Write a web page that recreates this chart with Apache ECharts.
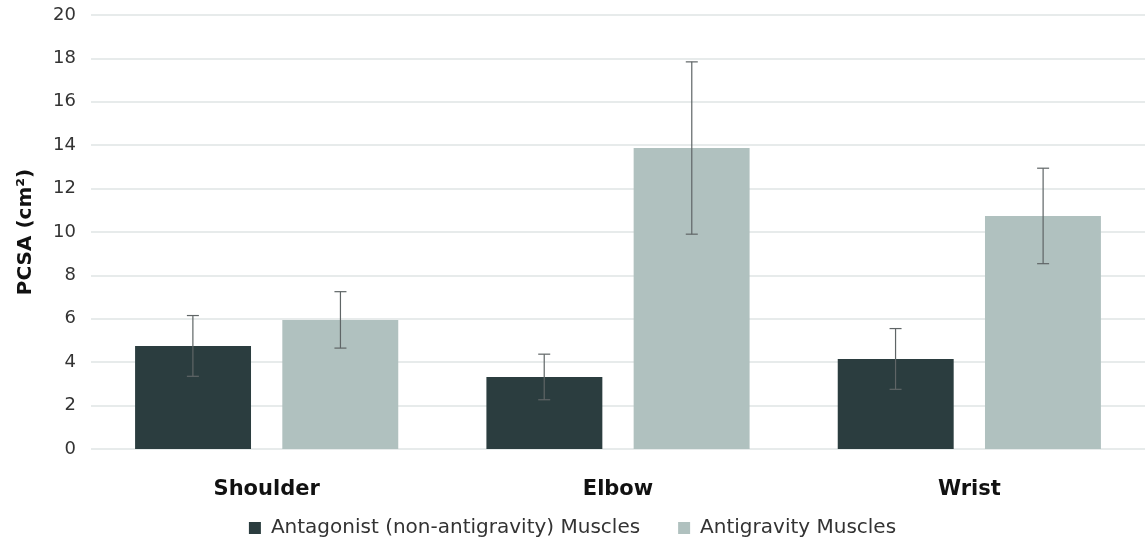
<!DOCTYPE html>
<html>
<head>
<meta charset="utf-8">
<script src="https://cdn.jsdelivr.net/npm/echarts@6/dist/echarts.min.js"></script>
<style>
  html, body { margin: 0; padding: 0; background: #fff; }
  #chart { width: 1145px; height: 545px; }
</style>
</head>
<body>
<div id="chart"></div>
<script>
// data
var joints = ['Shoulder', 'Elbow', 'Wrist'];
var antagonist = [4.75, 3.32, 4.15];
var antigravity = [5.95, 13.87, 10.74];
var antagonistErr = [1.4, 1.05, 1.4];
var antigravityErr = [1.3, 3.97, 2.2];
var yTicks = { min: 0, max: 20, interval: 2 };

var colAntag = '#2b3d3f';
var colAnti = '#b0c1bf';
var font = 'DejaVu Sans, Verdana, sans-serif';

// error bar drawn over one of the grouped bars
// shift = offset of bar centre as a fraction of the category band
function errorBars(values, errs, shift) {
    var data = values.map(function (v, i) { return [i, v - errs[i], v + errs[i]]; });
    return {
        type: 'custom',
        silent: true,
        z: 10,
        data: data,
        encode: { x: 0, y: [1, 2] },
        renderItem: function (params, api) {
            var lo = api.coord([api.value(0), api.value(1)]);
            var hi = api.coord([api.value(0), api.value(2)]);
            var band = api.size([1, 0])[0];
            var x = lo[0] + band * shift;
            var cap = 6;
            var style = { stroke: '#5f6566', lineWidth: 1.2 };
            return {
                type: 'group',
                children: [
                    { type: 'line', shape: { x1: x, y1: lo[1], x2: x, y2: hi[1] }, style: style },
                    { type: 'line', shape: { x1: x - cap, y1: hi[1], x2: x + cap, y2: hi[1] }, style: style },
                    { type: 'line', shape: { x1: x - cap, y1: lo[1], x2: x + cap, y2: lo[1] }, style: style }
                ]
            };
        }
    };
}

var option = {
    animation: false,
    grid: { left: 91, right: 0, top: 15, bottom: 96 },
    legend: {
        bottom: 2,
        left: 'center',
        icon: 'rect',
        itemWidth: 12,
        itemHeight: 12,
        itemGap: 38,
        textStyle: { fontFamily: font, fontSize: 20, color: '#333', padding: [0, 0, 0, 5] },
        data: ['Antagonist (non-antigravity) Muscles', 'Antigravity Muscles']
    },
    xAxis: {
        type: 'category',
        data: joints,
        axisLine: { show: false },
        axisTick: { show: false },
        axisLabel: { margin: 30, fontFamily: font, fontSize: 21, fontWeight: 'bold', color: '#111' }
    },
    yAxis: {
        type: 'value',
        min: yTicks.min,
        max: yTicks.max,
        interval: yTicks.interval,
        name: 'PCSA (cm²)',
        nameLocation: 'middle',
        nameGap: 55,
        nameTextStyle: { fontFamily: font, fontSize: 20, fontWeight: 'bold', color: '#111' },
        axisLine: { show: false },
        axisTick: { show: false },
        axisLabel: { margin: 15, fontFamily: font, fontSize: 18, color: '#333' },
        splitLine: { lineStyle: { color: '#dfe5e5', width: 1.5 } }
    },
    series: [
        {
            name: 'Antagonist (non-antigravity) Muscles',
            type: 'bar',
            data: antagonist,
            barWidth: '33%',
            barGap: '27%',
            itemStyle: { color: colAntag }
        },
        {
            name: 'Antigravity Muscles',
            type: 'bar',
            data: antigravity,
            barWidth: '33%',
            itemStyle: { color: colAnti }
        },
        errorBars(antagonist, antagonistErr, -0.21),
        errorBars(antigravity, antigravityErr, 0.21)
    ]
};

var chart = echarts.init(document.getElementById('chart'));
chart.setOption(option);
</script>
</body>
</html>
